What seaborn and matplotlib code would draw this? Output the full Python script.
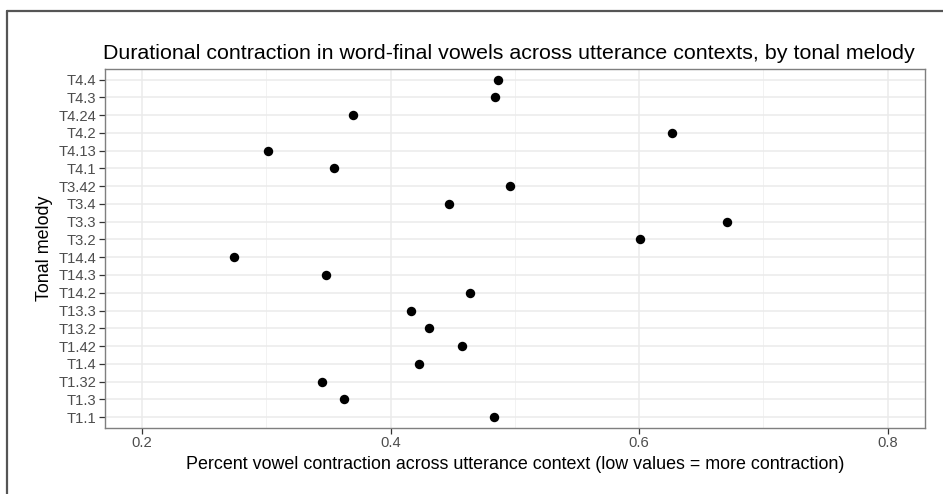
import matplotlib
matplotlib.use("Agg")
from matplotlib import pyplot as plt
from matplotlib.lines import Line2D
from matplotlib.ticker import MultipleLocator
import pandas as pd
import seaborn as sns

# tonal melodies, top to bottom as in the chart
melodies = ['T4.4', 'T4.3', 'T4.24', 'T4.2', 'T4.13', 'T4.1', 'T3.42', 'T3.4',
            'T3.3', 'T3.2', 'T14.4', 'T14.3', 'T14.2', 'T13.3', 'T13.2', 'T1.42',
            'T1.4', 'T1.32', 'T1.3', 'T1.1']
contraction = [0.486, 0.484, 0.370, 0.626, 0.301, 0.354, 0.496, 0.447,
               0.671, 0.601, 0.274, 0.348, 0.464, 0.416, 0.431, 0.457,
               0.423, 0.345, 0.362, 0.483]
x_ticks = [0.2, 0.4, 0.6, 0.8]

df = pd.DataFrame({'melody': melodies, 'contraction': contraction})

sns.set_theme(style="white")
plt.rcParams['font.family'] = ['Liberation Sans', 'DejaVu Sans']

fig = plt.figure(figsize=(9.43, 4.94), dpi=100)
ax = fig.add_axes([0.1113, 0.1342, 0.8696, 0.7261])

sns.stripplot(data=df, x='contraction', y='melody', order=melodies,
              jitter=False, color='black', size=6.8, linewidth=0, ax=ax, zorder=3)

ax.set_xlim(0.17, 0.83)
ax.set_ylim(len(melodies) - 1 + 0.6, -0.6)
ax.set_xticks(x_ticks)
ax.set_xticklabels([f'{t:.1f}' for t in x_ticks])
ax.xaxis.set_minor_locator(MultipleLocator(0.1))

ax.grid(which='major', color='#EBEBEB', linewidth=1.1, zorder=0)
ax.grid(which='minor', axis='x', color='#F0F0F0', linewidth=0.6, zorder=0)
ax.set_axisbelow(True)

for side in ax.spines.values():
    side.set_color('#7F7F7F')
    side.set_linewidth(1.0)

ax.tick_params(axis='both', which='major', length=4, width=0.9, color='#333333',
               labelsize=10.6, labelcolor='#4D4D4D', pad=2, bottom=True, left=True)
ax.tick_params(axis='x', which='minor', length=0)

ax.set_xlabel('Percent vowel contraction across utterance context (low values = more contraction)',
              fontsize=12.9, color='black', labelpad=4)
ax.set_ylabel('Tonal melody', fontsize=12.9, color='black', labelpad=4)
ax.set_title('Durational contraction in word-final vowels across utterance contexts, by tonal melody',
             fontsize=15.4, color='black', pad=7, x=0.492)

# partial outer frame seen at the top and left of the image
fig.add_artist(Line2D([0.0079, 0.0079], [0.0, 0.978], color='#555555', linewidth=1.6,
                      transform=fig.transFigure))
fig.add_artist(Line2D([0.0079, 1.0], [0.978, 0.978], color='#555555', linewidth=1.6,
                      transform=fig.transFigure))

fig.savefig('out.png', dpi=100)
